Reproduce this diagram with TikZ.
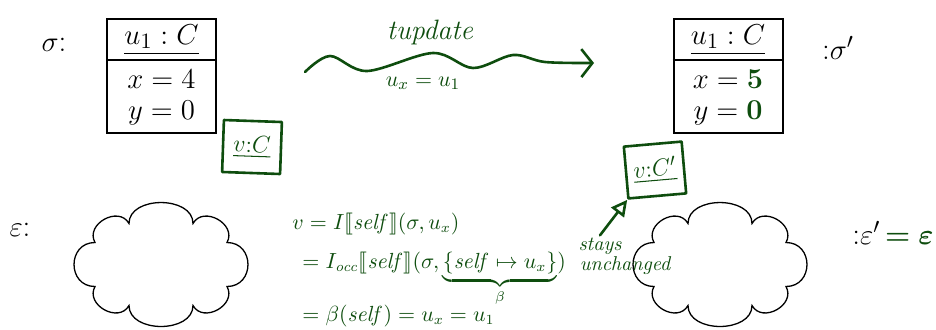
\documentclass[tikz,border=0pt]{standalone}
\usepackage{amsmath,amssymb,bm}
\usepackage{stmaryrd}
\usepackage{xcolor}
\usepackage{tikz}
\usetikzlibrary{arrows.meta,calc}
\definecolor{ink}{HTML}{0E4D0E}

\begin{document}
\begin{tikzpicture}[x=0.5pt,y=-0.5pt,
  objbox/.style={draw,line width=1pt,minimum width=54.5pt,minimum height=57pt,inner sep=0pt},
  blk/.style={font=\fontsize{15.5}{18}\selectfont},
  env/.style={draw,line width=0.65pt},
  puff/.style={bend left=90,looseness=#1},
  pen/.style={draw=ink,line width=1.3pt,line cap=round,line join=round},
  hand/.style={text=ink,inner sep=1pt},
  note/.style={pen,minimum width=29pt,minimum height=26pt,inner sep=1pt,text=ink,font=\fontsize{13}{15}\selectfont}]
  \useasboundingbox (0,0) rectangle (936,329);
  % states before and after
  \node[blk] (sig) at (54,45) {$\sigma$:};
  \node[objbox] (objA) at (161.5,76) {};
  \node[blk] (hdrA) at (161.5,40) {$\underline{u_1 : C}$};
  \draw[line width=1pt] ($(objA.north west)!0.36!(objA.south west)$) -- ($(objA.north east)!0.36!(objA.south east)$);
  \node[blk] (xA) at (161.5,79) {$x = 4$};
  \node[blk] (yA) at (161.5,113) {$y = 0$};
  \node[objbox] (objB) at (728,76) {};
  \node[blk] (hdrB) at (728,40) {$\underline{u_1 : C}$};
  \draw[line width=1pt] ($(objB.north west)!0.36!(objB.south west)$) -- ($(objB.north east)!0.36!(objB.south east)$);
  \node[blk] (xB) at (728,79) {$x = \textcolor{ink}{\mathbf{5}}$};
  \node[blk] (yB) at (728,113) {$y = \textcolor{ink}{\mathbf{0}}$};
  \node[blk] (sigB) at (838,48) {:$\sigma'$};
  % environments
  \node[blk] (eps) at (20,230) {$\varepsilon$:};
  \foreach \cx/\nm in {161/envA,720/envB} {
    \begin{scope}[shift={(\cx,264.5)},y=0.5pt]
      \coordinate (\nm) at (0,0);
      \draw[env] (-32,41) to[puff=1.12] (32,41) to[puff=1.38] (66,22) to[puff=1.63] (66,-22)
        to[puff=1.38] (32,-41) to[puff=1.12] (-32,-41) to[puff=1.38] (-66,-22)
        to[puff=1.63] (-66,22) to[puff=1.38] (-32,41) -- cycle;
    \end{scope}
  }
  \node[blk] (epsB) at (893,233) {:$\varepsilon'\,\textcolor{ink}{\boldsymbol{=\varepsilon}}$};
  % the update step
  \coordinate (updS) at (305,72);
  \coordinate (updE) at (594,63);
  \draw[pen,-{Straight Barb[length=5.5pt,width=14pt]}] plot[smooth,tension=0.55] coordinates {(updS) (330,56) (367,71) (433,53) (473,68) (513,55) (545,62) (updE)};
  \node[hand,font=\fontsize{14}{16}\selectfont\itshape] (tupd) at (430,32) {tupdate};
  \node[hand,font=\fontsize{11}{13}\selectfont] (uxu) at (423,83) {$u_x = u_1$};
  % notes
  \node[note,rotate=-2] (ncA) at (252,147) {$\underline{v{:}C}$};
  \node[note,rotate=5] (ncB) at (655,170) {$\underline{v{:}C'}$};
  \node[hand,font=\fontsize{10}{11}\selectfont\itshape] (stays) at (600,246) {stays};
  \node[hand,font=\fontsize{10}{11}\selectfont\itshape] (unch) at (625,266) {unchanged};
  \draw[pen,-{Triangle[open,length=8pt,width=8pt]}] (stays.north) -- (ncB.south west);
  \begin{scope}[every node/.style={hand,font=\fontsize{10.5}{12}\selectfont}]
    \node[anchor=base west] (evA) at (290,229) {$v = I\llbracket \mathit{self}\rrbracket(\sigma, u_x)$};
    \node[anchor=base west] (evB) at (300,268) {$= I_{\mathit{occ}}\llbracket \mathit{self}\rrbracket(\sigma, \underbrace{\{\mathit{self}\mapsto u_x\}}_{\beta})$};
    \node[anchor=base west] (evC) at (300,321) {$= \beta(\mathit{self}) = u_x = u_1$};
  \end{scope}
\end{tikzpicture}
\end{document}
